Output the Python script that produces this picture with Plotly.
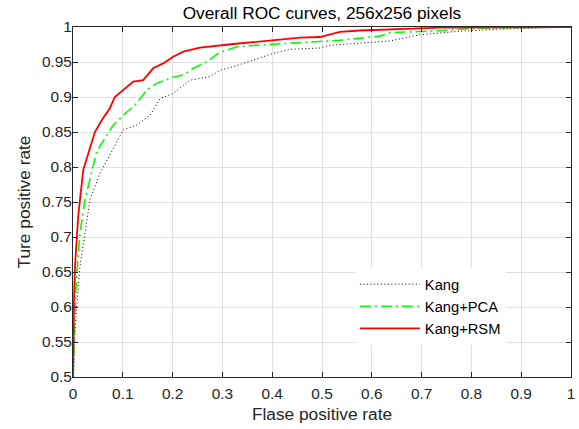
import plotly.graph_objects as go

# Kang+RSM (red solid)
rsm_fpr = [0, 0.0007, 0.002, 0.004, 0.0074, 0.0105, 0.014, 0.0207, 0.031, 0.044, 0.058, 0.074, 0.084, 0.101,
           0.121, 0.141, 0.161, 0.181, 0.201, 0.2215, 0.255, 0.322, 0.402, 0.456, 0.496, 0.536, 0.576, 0.636, 0.737, 1.0]
rsm_tpr = [0.5, 0.563, 0.61, 0.658, 0.705, 0.73, 0.753, 0.796, 0.82, 0.85, 0.867, 0.884, 0.9, 0.91,
           0.922, 0.924, 0.941, 0.948, 0.9576, 0.9647, 0.9705, 0.9757, 0.981, 0.9847, 0.9857, 0.993, 0.995, 0.9964, 0.999, 1.0]

# Kang+PCA (green dash-dot)
pca_fpr = [0, 0.002, 0.0047, 0.0087, 0.014, 0.024, 0.033, 0.0476, 0.068, 0.081, 0.101, 0.128, 0.148, 0.168,
           0.195, 0.2215, 0.2416, 0.2685, 0.295, 0.329, 0.389, 0.456, 0.536, 0.616, 0.637, 0.717, 0.777, 0.817, 1.0]
pca_tpr = [0.5, 0.563, 0.61, 0.658, 0.705, 0.753, 0.781, 0.822, 0.8457, 0.86, 0.874, 0.891, 0.910, 0.9195,
           0.927, 0.9314, 0.941, 0.9504, 0.9637, 0.9719, 0.975, 0.9776, 0.981, 0.987, 0.992, 0.994, 0.997, 0.9986, 1.0]

# Kang (black dotted)
kang_fpr = [0.0013, 0.004, 0.0074, 0.014, 0.024, 0.034, 0.054, 0.074, 0.101, 0.128, 0.155, 0.175, 0.201, 0.235,
            0.275, 0.295, 0.322, 0.362, 0.402, 0.436, 0.496, 0.516, 0.636, 0.697, 0.777, 0.857, 0.938, 1.0]
kang_tpr = [0.5, 0.563, 0.60, 0.658, 0.705, 0.753, 0.791, 0.817, 0.853, 0.86, 0.874, 0.898, 0.905, 0.924,
            0.929, 0.938, 0.9433, 0.9528, 0.9624, 0.968, 0.97, 0.974, 0.98, 0.989, 0.994, 0.997, 0.999, 1.0]

x_ticks = [0, 0.1, 0.2, 0.3, 0.4, 0.5, 0.6, 0.7, 0.8, 0.9, 1]
x_labels = ["0", "0.1", "0.2", "0.3", "0.4", "0.5", "0.6", "0.7", "0.8", "0.9", "1"]
y_ticks = [0.5, 0.55, 0.6, 0.65, 0.7, 0.75, 0.8, 0.85, 0.9, 0.95, 1]
y_labels = ["0.5", "0.55", "0.6", "0.65", "0.7", "0.75", "0.8", "0.85", "0.9", "0.95", "1"]

FONT = "Liberation Sans, Arial, sans-serif"
AX = "#262626"

fig = go.Figure()
fig.add_trace(go.Scatter(x=kang_fpr, y=kang_tpr, mode="lines", name="Kang",
                         line=dict(color="black", width=1, dash="1px,2.5px")))
fig.add_trace(go.Scatter(x=pca_fpr, y=pca_tpr, mode="lines", name="Kang+PCA",
                         line=dict(color="#00ff00", width=1.6, dash="11px,4px,2px,4px")))
fig.add_trace(go.Scatter(x=rsm_fpr, y=rsm_tpr, mode="lines", name="Kang+RSM",
                         line=dict(color="#ff0000", width=1.8)))

axis_common = dict(showline=True, linecolor=AX, linewidth=1, mirror="ticks", ticks="inside",
                   ticklen=5, tickcolor=AX, showgrid=True, gridcolor="#e0e0e0", gridwidth=1,
                   zeroline=False, automargin=False,
                   tickfont=dict(family=FONT, size=15.4, color=AX))

fig.update_layout(
    width=579, height=429,
    margin=dict(l=73, r=8, t=27, b=52),
    paper_bgcolor="white", plot_bgcolor="white",
    font=dict(family=FONT, color=AX),
    title=dict(text="Overall ROC curves, 256x256 pixels", x=0.556, xanchor="center",
               y=0.97, yanchor="middle", font=dict(family=FONT, size=17.3, color="black")),
    xaxis=dict(range=[0, 1], tickvals=x_ticks, ticktext=x_labels, ticklabelstandoff=3,
               title=dict(text="Flase positive rate", font=dict(family=FONT, size=17.3, color=AX), standoff=6),
               **axis_common),
    yaxis=dict(range=[0.5, 1], tickvals=y_ticks, ticktext=y_labels, ticklabelstandoff=-3,
               title=dict(text="Ture positive rate", font=dict(family=FONT, size=17.3, color=AX), standoff=6),
               **axis_common),
    legend=dict(x=0.566, y=0.311, xanchor="left", yanchor="top", bgcolor="white", borderwidth=0,
                font=dict(family=FONT, size=14.7, color="black"), itemwidth=60,
                tracegroupgap=0),
    showlegend=True,
)

fig.write_html("out.html", config={"displayModeBar": False},
               post_script="document.body.style.margin='0px';")
